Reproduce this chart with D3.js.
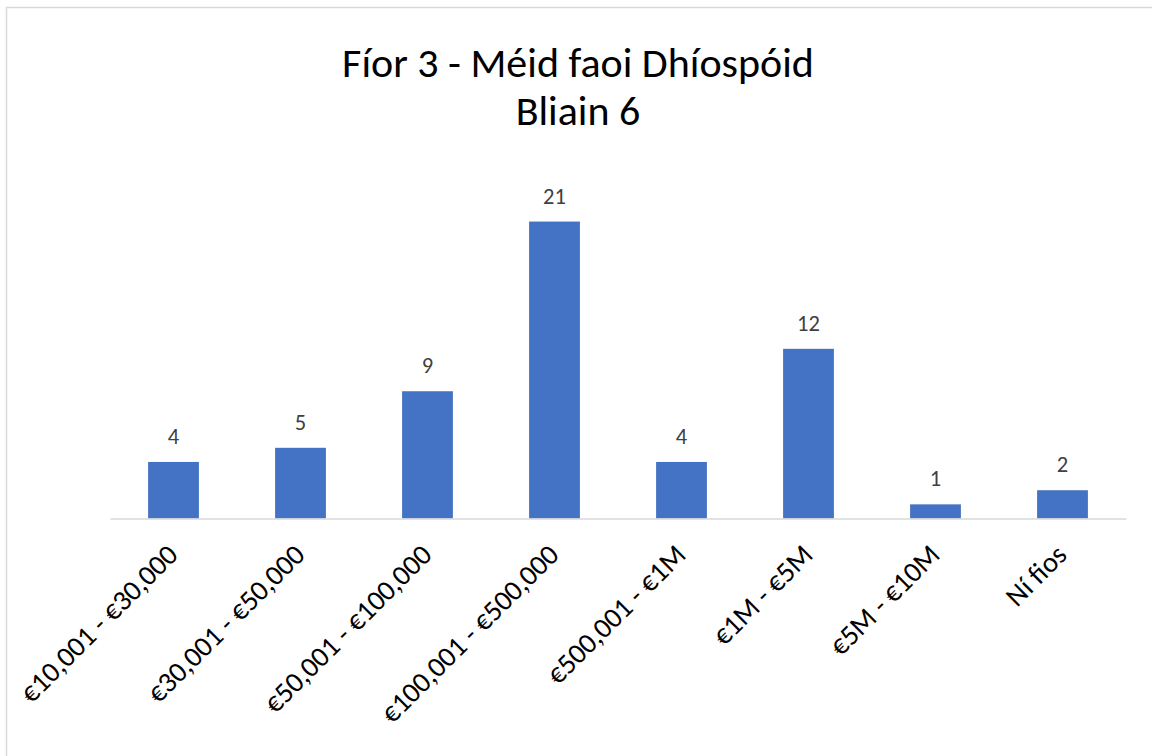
<!DOCTYPE html>
<html lang="ga">
<head>
<meta charset="utf-8">
<title>Fíor 3 - Méid faoi Dhíospóid</title>
<script src="https://cdnjs.cloudflare.com/ajax/libs/d3/7.8.5/d3.min.js"></script>
<style>
  body { margin: 0; background: #fff; }
  svg { display: block; font-family: Carlito, Calibri, Lato, "Open Sans", sans-serif; }
</style>
</head>
<body>
<div id="chart"></div>
<script>
// data
var categories = ["€10,001 - €30,000", "€30,001 - €50,000", "€50,001 - €100,000",
  "€100,001 - €500,000", "€500,001 - €1M", "€1M - €5M", "€5M - €10M", "Ní fios"];
var values = [4, 5, 9, 21, 4, 12, 1, 2];
var titleLines = ["Fíor 3 - Méid faoi Dhíospóid", "Bliain 6"];

var W = 1152, H = 756;
var plot = { left: 110, right: 1126, top: 165, bottom: 518.5 };

var svg = d3.select("#chart").append("svg")
  .attr("width", W)
  .attr("height", H);

// outer frame
svg.append("rect")
  .attr("x", 6.5).attr("y", 7.5)
  .attr("width", W + 20).attr("height", H + 20)
  .attr("fill", "#fff")
  .attr("stroke", "#d9d9d9")
  .attr("stroke-width", 1.5);

var x = d3.scaleBand()
  .domain(categories)
  .range([plot.left, plot.right])
  .paddingInner(0.6)
  .paddingOuter(0.3);

var y = d3.scaleLinear()
  .domain([0, 25])
  .range([plot.bottom, plot.top]);

// bars
svg.selectAll(".bar")
  .data(values)
  .enter().append("rect")
  .attr("class", "bar")
  .attr("x", function (d, i) { return x(categories[i]); })
  .attr("y", function (d) { return y(d); })
  .attr("width", x.bandwidth())
  .attr("height", function (d) { return y(0) - y(d); })
  .attr("fill", "#4472c4");

// value labels
svg.selectAll(".val")
  .data(values)
  .enter().append("text")
  .attr("class", "val")
  .attr("x", function (d, i) { return x(categories[i]) + x.bandwidth() / 2; })
  .attr("y", function (d) { return y(d) - 18; })
  .attr("text-anchor", "middle")
  .attr("fill", "#404040")
  .style("font-size", "22.5px")
  .text(function (d) { return d; });

// category axis
var axis = svg.append("g")
  .attr("transform", "translate(0," + plot.bottom + ")")
  .call(d3.axisBottom(x).tickSize(0).tickPadding(0));

axis.select(".domain")
  .attr("stroke", "#d9d9d9")
  .attr("stroke-width", 1.5);

axis.selectAll(".tick text")
  .attr("fill", "#000")
  .style("font-family", "Carlito, Calibri, Lato, 'Open Sans', sans-serif")
  .style("font-size", "28.5px")
  .attr("text-anchor", "end")
  .attr("dy", 0)
  .attr("y", 0)
  .attr("transform", "translate(6,38) rotate(-45)");

// title
svg.append("g").selectAll("text")
  .data(titleLines)
  .enter().append("text")
  .attr("x", 578)
  .attr("y", function (d, i) { return 77 + i * 48; })
  .attr("text-anchor", "middle")
  .attr("fill", "#000")
  .style("font-size", "42px")
  .text(function (d) { return d; });
</script>
</body>
</html>
